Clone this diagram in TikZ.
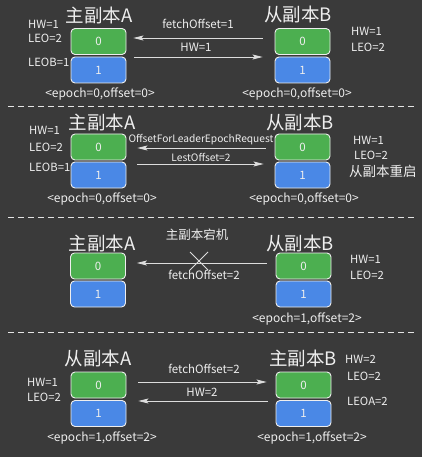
\documentclass[tikz,border=0pt]{standalone}
\usepackage{fontspec}
\setmainfont{Noto Sans CJK SC}
\usetikzlibrary{arrows.meta,calc}
\definecolor{bg}{HTML}{3A3A3A}
\definecolor{gbox}{HTML}{4CAF50}
\definecolor{bbox}{HTML}{4A88E6}
\definecolor{fg}{HTML}{EEEEEE}
\definecolor{ln}{HTML}{DDDDDD}
\tikzset{
  x=1pt,y=-1pt,
  cell/.style={draw=fg,line width=0.9pt,rounded corners=4pt,minimum width=55pt,minimum height=26pt,inner sep=0pt,text=fg,font=\fontsize{11.5}{13}\selectfont},
  gcell/.style={cell,fill=gbox},
  bcell/.style={cell,fill=bbox},
  title/.style={text=fg,inner sep=0pt,font=\fontsize{18.5}{21}\selectfont},
  lab/.style={text=fg,inner sep=0pt,anchor=west,font=\fontsize{11.3}{13}\selectfont},
  clab/.style={text=fg,inner sep=0pt,font=\fontsize{11.5}{13}\selectfont},
  elab/.style={text=fg,inner sep=0pt,font=\fontsize{12}{14}\selectfont},
  slab/.style={text=fg,inner sep=0pt,font=\fontsize{10.2}{12}\selectfont},
  arr/.style={draw=ln,line width=0.8pt,-{Stealth[length=10pt,width=5pt,inset=2pt]}},
  sep/.style={draw=ln!80,line width=0.9pt,dash pattern=on 6pt off 4pt},
}
\begin{document}
\begin{tikzpicture}
\fill[bg] (0,0) rectangle (422,457);
\useasboundingbox (0,0) rectangle (422,457);

% ---------- panel 1 ----------
\node[title] (A1t) at (99,15) {主副本A};
\node[gcell] (A1g) at (98.5,41.5) {0};
\node[bcell] (A1b) at (98.5,70) {1};
\node[lab] (A1h) at (28,24) {HW=1};
\node[lab] (A1l) at (28,38) {LEO=2};
\node[lab] (A1e) at (28,62) {LEOB=1};
\node[elab] (A1p) at (100,94) {<epoch=0,offset=0>};
\node[title] (B1t) at (298,14) {从副本B};
\node[gcell] (B1g) at (302.5,41.5) {0};
\node[bcell] (B1b) at (302.5,70) {1};
\node[lab] (B1h) at (351,31) {HW=1};
\node[lab] (B1l) at (351,47) {LEO=2};
\node[elab] (B1p) at (297,94) {<epoch=0,offset=0>};
\draw[arr] ($(B1g.west)+(-12,-3.5)$) -- ($(A1g.east)+(7,-3.5)$);
\node[clab] (m1a) at (198,24) {fetchOffset=1};
\draw[arr] ($(A1b.east)+(8,-13)$) -- ($(B1b.west)+(-12,-13)$);
\node[clab] (m1b) at (196,47) {HW=1};
\draw[sep] (8,106) -- (416,106);

% ---------- panel 2 ----------
\node[title] (A2t) at (102,122) {主副本A};
\node[gcell] (A2g) at (98.5,147) {0};
\node[bcell] (A2b) at (98.5,175) {1};
\node[lab] (A2h) at (29,130) {HW=1};
\node[lab] (A2l) at (29,147) {LEO=2};
\node[lab] (A2e) at (29,167) {LEOB=1};
\node[elab] (A2p) at (102,199) {<epoch=0,offset=0>};
\node[title] (B2t) at (300,122) {从副本B};
\node[gcell] (B2g) at (302.5,147) {0};
\node[bcell] (B2b) at (302.5,175) {1};
\node[lab] (B2h) at (353,140) {HW=1};
\node[lab] (B2l) at (354,155) {LEO=2};
\node[lab,font=\fontsize{13.5}{15}\selectfont] (B2r) at (349,171) {从副本重启};
\node[elab] (B2p) at (304,199) {<epoch=0,offset=0>};
\draw[arr] ($(B2g.west)+(-9,1)$) -- ($(A2g.east)+(11,1)$);
\node[slab] (m2a) at (201,140) {OffsetForLeaderEpochRequest};
\draw[arr] ($(A2g.east)+(11,17)$) -- ($(B2g.west)+(-11,17)$);
\node[slab] (m2b) at (201,157) {LestOffset=2};
\draw[sep] (8,217) -- (416,217);

% ---------- panel 3 ----------
\node[title] (A3t) at (102,243) {主副本A};
\node[gcell] (A3g) at (98,266) {0};
\node[bcell] (A3b) at (98,294) {1};
\node[title] (B3t) at (300,243) {从副本B};
\node[gcell] (B3g) at (303.5,266) {0};
\node[bcell] (B3b) at (303.5,294) {1};
\node[lab] (B3h) at (350,259) {HW=1};
\node[lab] (B3l) at (350,275) {LEO=2};
\node[elab] (B3p) at (307,319) {<epoch=1,offset=2>};
\node[clab,font=\fontsize{12.5}{14}\selectfont] (m3t) at (197,235) {主副本宕机};
\draw[arr] ($(B3g.west)+(-9,-3)$) -- ($(A3g.east)+(11,-3)$);
\coordinate (X) at (199,261);
\draw[ln,line width=0.9pt] ($(X)+(-9,-9)$) -- ($(X)+(9,9)$) ($(X)+(-9,9)$) -- ($(X)+(9,-9)$);
\node[clab] (m3a) at (204,275) {fetchOffset=2};
\draw[sep] (8,332) -- (416,332);

% ---------- panel 4 ----------
\node[title] (A4t) at (98,358) {从副本A};
\node[gcell] (A4g) at (98.5,385) {0};
\node[bcell] (A4b) at (98.5,413.5) {1};
\node[lab] (A4h) at (27,382) {HW=1};
\node[lab] (A4l) at (27,397) {LEO=2};
\node[elab] (A4p) at (102,438) {<epoch=1,offset=2>};
\node[title] (B4t) at (303,358) {主副本B};
\node[gcell] (B4g) at (303.5,385) {0};
\node[bcell] (B4b) at (303.5,413.5) {1};
\node[lab] (B4h) at (345,359) {HW=2};
\node[lab] (B4l) at (347,376) {LEO=2};
\node[lab] (B4e) at (347,401) {LEOA=2};
\node[elab] (B4p) at (312,438) {<epoch=1,offset=2>};
\draw[arr] ($(A4g.east)+(12,-3)$) -- ($(B4g.west)+(-9,-3)$);
\node[clab] (m4a) at (204,369) {fetchOffset=2};
\draw[arr] ($(B4g.west)+(-8,16)$) -- ($(A4g.east)+(12,16)$);
\node[clab] (m4b) at (202,392) {HW=2};
\end{tikzpicture}
\end{document}
